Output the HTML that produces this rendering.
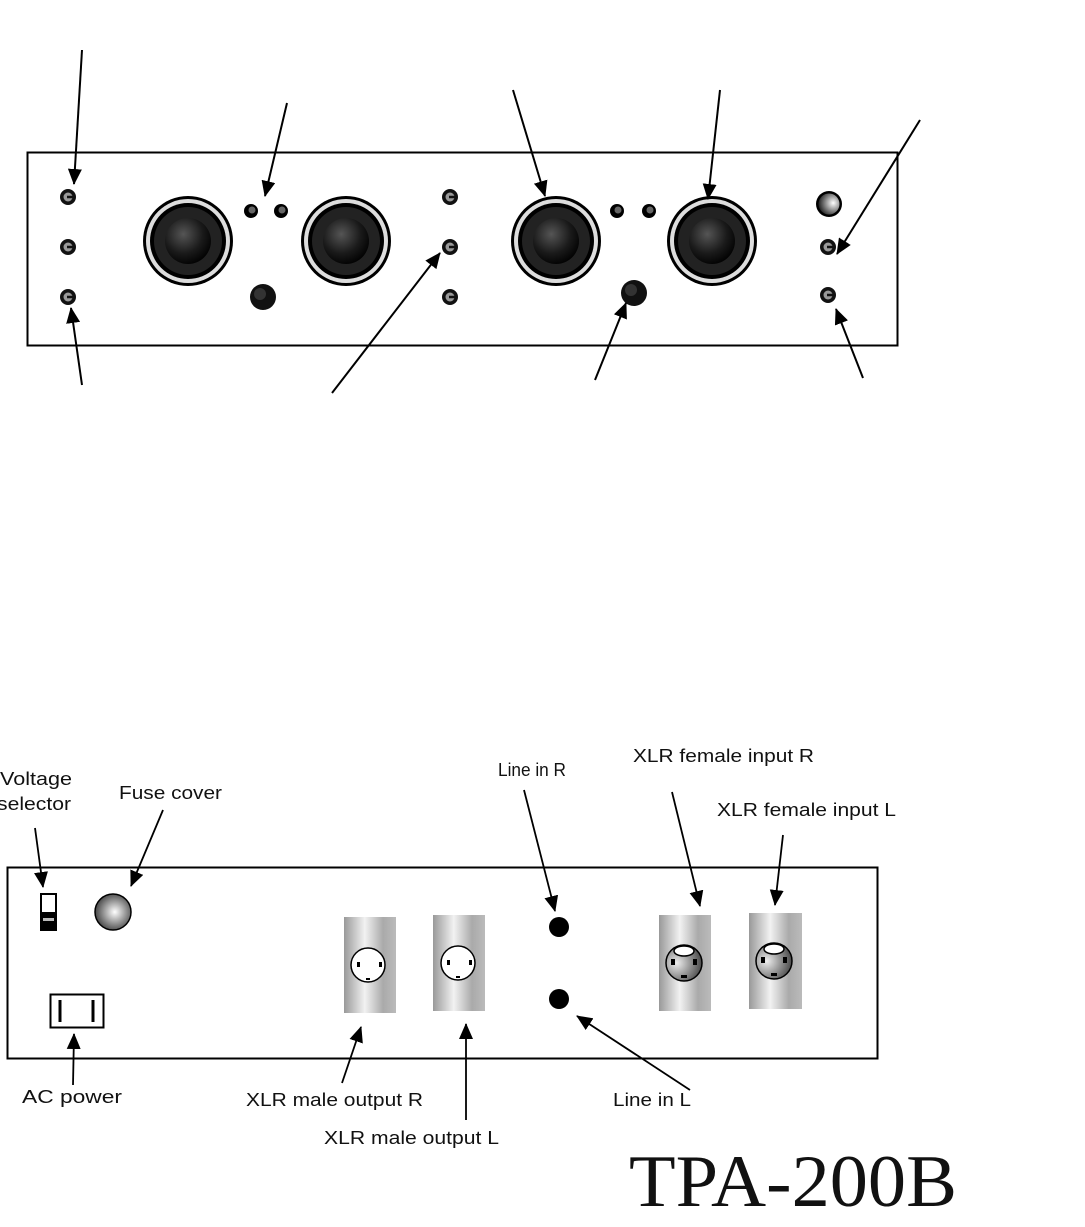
<!DOCTYPE html>
<html><head><meta charset="utf-8"><style>
html,body{margin:0;padding:0;background:#fff;}
svg{display:block;}
text{font-family:"Liberation Sans",sans-serif;font-size:18px;fill:#111;}
</style></head><body>
<svg width="1085" height="1227" viewBox="0 0 1085 1227" xmlns="http://www.w3.org/2000/svg">
<defs>
<marker id="ah" markerWidth="16" markerHeight="14" refX="15" refY="7" orient="auto" markerUnits="userSpaceOnUse">
<path d="M0,0 L16,7 L0,14 z" fill="#000"/>
</marker>
<radialGradient id="knob" cx="0.4" cy="0.35" r="0.7">
<stop offset="0" stop-color="#555"/><stop offset="0.6" stop-color="#1a1a1a"/><stop offset="1" stop-color="#000"/>
</radialGradient>
<radialGradient id="fuse" cx="0.55" cy="0.5" r="0.6">
<stop offset="0" stop-color="#fff"/><stop offset="1" stop-color="#333"/>
</radialGradient>
<radialGradient id="silver" cx="0.7" cy="0.45" r="0.7">
<stop offset="0" stop-color="#fff"/><stop offset="1" stop-color="#222"/>
</radialGradient>
<linearGradient id="cyl" x1="0" x2="1" y1="0" y2="0">
<stop offset="0" stop-color="#999"/><stop offset="0.4" stop-color="#f2f2f2"/><stop offset="0.75" stop-color="#aaa"/><stop offset="1" stop-color="#bbb"/>
</linearGradient>
<radialGradient id="fem" cx="0.3" cy="0.5" r="0.8">
<stop offset="0" stop-color="#eee"/><stop offset="1" stop-color="#333"/>
</radialGradient>
<g id="nut"><circle r="8" fill="#111"/><circle r="4.5" fill="#999"/><path d="M-1,0 h6" stroke="#111" stroke-width="2.5"/></g>
<g id="bigknob"><circle r="45" fill="#000"/><circle r="42" fill="#ddd"/><circle r="38" fill="#000"/><circle r="34" fill="#222"/><circle r="23" fill="url(#knob)"/></g>
<g id="led"><circle r="7" fill="#000"/><circle cx="1" cy="-1" r="3.5" fill="#666"/></g>
</defs>

<!-- top panel -->
<rect x="27.5" y="152.5" width="870" height="193" fill="#fff" stroke="#000" stroke-width="2"/>
<use href="#nut" x="68" y="197"/><use href="#nut" x="68" y="247"/><use href="#nut" x="68" y="297"/>
<use href="#nut" x="450" y="197"/><use href="#nut" x="450" y="247"/><use href="#nut" x="450" y="297"/>
<use href="#nut" x="828" y="247"/><use href="#nut" x="828" y="295"/>
<circle cx="829" cy="204" r="13" fill="#000"/><circle cx="829" cy="204" r="10.5" fill="url(#silver)"/>
<use href="#bigknob" x="188" y="241"/><use href="#bigknob" x="346" y="241"/>
<use href="#bigknob" x="556" y="241"/><use href="#bigknob" x="712" y="241"/>
<use href="#led" x="251" y="211"/><use href="#led" x="281" y="211"/>
<use href="#led" x="617" y="211"/><use href="#led" x="649" y="211"/>
<circle cx="263" cy="297" r="13" fill="#111"/><circle cx="260" cy="294" r="6" fill="#333"/>
<circle cx="634" cy="293" r="13" fill="#111"/><circle cx="631" cy="290" r="6" fill="#333"/>

<g stroke="#000" stroke-width="2" fill="none" marker-end="url(#ah)">
<line x1="82" y1="50" x2="74" y2="184"/>
<line x1="287" y1="103" x2="265" y2="196"/>
<line x1="513" y1="90" x2="545" y2="196"/>
<line x1="720" y1="90" x2="708" y2="199"/>
<line x1="920" y1="120" x2="837" y2="254"/>
<line x1="82" y1="385" x2="71" y2="308"/>
<line x1="332" y1="393" x2="440" y2="253"/>
<line x1="595" y1="380" x2="626" y2="303"/>
<line x1="863" y1="378" x2="836" y2="309"/>
</g>

<!-- bottom panel -->
<rect x="7.5" y="867.5" width="870" height="191" fill="#fff" stroke="#000" stroke-width="2"/>
<rect x="41" y="894" width="15" height="36" fill="#fff" stroke="#000" stroke-width="2"/>
<rect x="41" y="912" width="15" height="18" fill="#000"/><rect x="43" y="918" width="11" height="3" fill="#bbb"/>
<circle cx="113" cy="912" r="18" fill="url(#fuse)" stroke="#000" stroke-width="1.5"/>
<rect x="50.5" y="994.5" width="53" height="33" fill="#fff" stroke="#000" stroke-width="2"/>
<line x1="60" y1="1000" x2="60" y2="1022" stroke="#000" stroke-width="3"/>
<line x1="93" y1="1000" x2="93" y2="1022" stroke="#000" stroke-width="3"/>

<rect x="344" y="917" width="52" height="96" fill="url(#cyl)"/>
<rect x="433" y="915" width="52" height="96" fill="url(#cyl)"/>
<g fill="#fff" stroke="#000" stroke-width="1.5"><circle cx="368" cy="965" r="17"/><circle cx="458" cy="963" r="17"/></g>
<g fill="#000"><rect x="357" y="962" width="3" height="5"/><rect x="379" y="962" width="3" height="5"/><rect x="366" y="978" width="4" height="2"/>
<rect x="447" y="960" width="3" height="5"/><rect x="469" y="960" width="3" height="5"/><rect x="456" y="976" width="4" height="2"/></g>

<circle cx="559" cy="927" r="10" fill="#000"/><circle cx="559" cy="999" r="10" fill="#000"/>

<rect x="659" y="915" width="52" height="96" fill="url(#cyl)"/>
<rect x="749" y="913" width="53" height="96" fill="url(#cyl)"/>
<g stroke="#000" stroke-width="1.5"><circle cx="684" cy="963" r="18" fill="url(#fem)"/><circle cx="774" cy="961" r="18" fill="url(#fem)"/>
<ellipse cx="684" cy="951" rx="10" ry="5" fill="#fff"/><ellipse cx="774" cy="949" rx="10" ry="5" fill="#fff"/></g>
<g fill="#000"><rect x="671" y="959" width="4" height="6"/><rect x="693" y="959" width="4" height="6"/><rect x="681" y="975" width="6" height="3"/>
<rect x="761" y="957" width="4" height="6"/><rect x="783" y="957" width="4" height="6"/><rect x="771" y="973" width="6" height="3"/></g>

<g stroke="#000" stroke-width="1.8" fill="none" marker-end="url(#ah)">
<line x1="35" y1="828" x2="43" y2="887"/>
<line x1="163" y1="810" x2="131" y2="886"/>
<line x1="524" y1="790" x2="555" y2="911"/>
<line x1="672" y1="792" x2="700" y2="906"/>
<line x1="783" y1="835" x2="775" y2="905"/>
<line x1="73" y1="1085" x2="74" y2="1034"/>
<line x1="342" y1="1083" x2="361" y2="1027"/>
<line x1="466" y1="1120" x2="466" y2="1024"/>
<line x1="690" y1="1090" x2="577" y2="1016"/>
</g>

<text x="0" y="785" textLength="72" lengthAdjust="spacingAndGlyphs">Voltage</text>
<text x="-3" y="810" textLength="74" lengthAdjust="spacingAndGlyphs">selector</text>
<text x="119" y="799" textLength="103" lengthAdjust="spacingAndGlyphs">Fuse cover</text>
<text x="498" y="776" textLength="68" lengthAdjust="spacingAndGlyphs">Line in R</text>
<text x="633" y="762" textLength="181" lengthAdjust="spacingAndGlyphs">XLR female input R</text>
<text x="717" y="816" textLength="179" lengthAdjust="spacingAndGlyphs">XLR female input L</text>
<text x="22" y="1103" textLength="100" lengthAdjust="spacingAndGlyphs">AC power</text>
<text x="246" y="1106" textLength="177" lengthAdjust="spacingAndGlyphs">XLR male output R</text>
<text x="324" y="1144" textLength="175" lengthAdjust="spacingAndGlyphs">XLR male output L</text>
<text x="613" y="1106" textLength="78" lengthAdjust="spacingAndGlyphs">Line in L</text>

<text x="629" y="1206" style="font-family:'Liberation Serif',serif;font-size:74px" textLength="328" lengthAdjust="spacingAndGlyphs">TPA-200B</text>
</svg>
</body></html>
